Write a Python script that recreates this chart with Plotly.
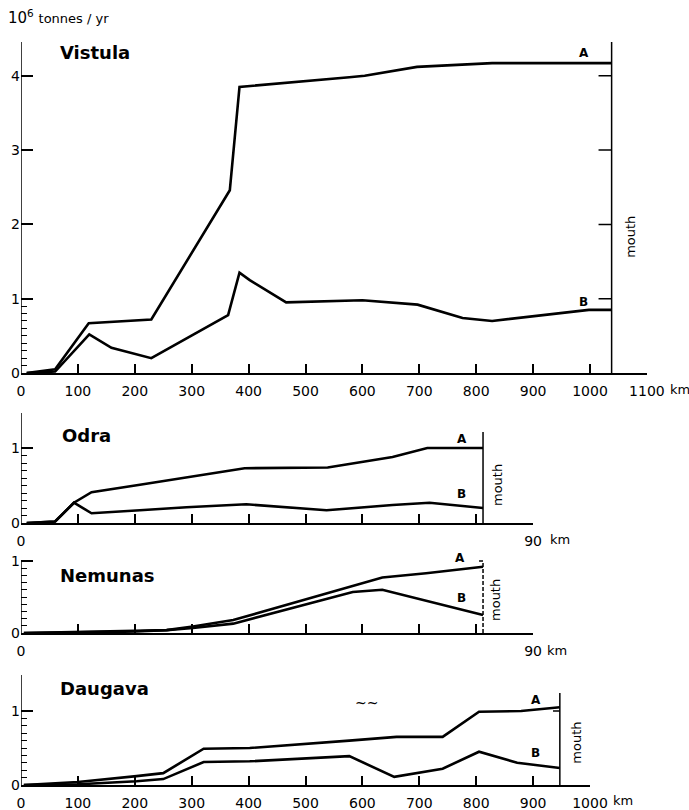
import plotly.graph_objects as go

W, H = 689, 810
X0_PX = 21          # pixel of km 0
PX_PER_KM = 0.569   # horizontal scale shared by all panels

# ---------------- data (km from source, 10^6 tonnes/yr) ----------------
VISTULA_KM_A = [10, 60, 119, 229, 367, 384, 577, 604, 696, 828, 1038]
VISTULA_A = [0, 0.05, 0.67, 0.72, 2.46, 3.85, 3.98, 4.0, 4.12, 4.17, 4.17]
VISTULA_KM_B = [10, 60, 120, 159, 229, 364, 384, 402, 466, 600, 697, 776, 828, 998, 1038]
VISTULA_B = [0, 0.02, 0.52, 0.34, 0.2, 0.78, 1.35, 1.25, 0.95, 0.98, 0.92, 0.74, 0.7, 0.85, 0.85]

ODRA_KM_A = [10, 60, 93, 124, 209, 291, 393, 539, 600, 653, 714, 812]
ODRA_A = [0, 0.02, 0.27, 0.41, 0.51, 0.61, 0.73, 0.74, 0.81, 0.88, 1.0, 1.0]
ODRA_KM_B = [10, 60, 93, 124, 209, 291, 396, 537, 653, 718, 812]
ODRA_B = [0, 0.02, 0.27, 0.13, 0.17, 0.21, 0.25, 0.17, 0.24, 0.27, 0.2]

NEMUNAS_KM_A = [5, 100, 200, 256, 302, 373, 635, 712, 812]
NEMUNAS_A = [0, 0.01, 0.03, 0.04, 0.09, 0.18, 0.77, 0.83, 0.92]
NEMUNAS_KM_B = [5, 100, 200, 256, 302, 373, 583, 635, 812]
NEMUNAS_B = [0, 0.01, 0.02, 0.04, 0.07, 0.13, 0.57, 0.6, 0.25]

DAUGAVA_KM_A = [5, 100, 203, 250, 321, 402, 577, 660, 741, 805, 879, 947]
DAUGAVA_A = [0, 0.04, 0.12, 0.16, 0.49, 0.5, 0.6, 0.65, 0.65, 0.99, 1.0, 1.05]
DAUGAVA_KM_B = [5, 100, 203, 250, 321, 402, 577, 656, 741, 805, 872, 947]
DAUGAVA_B = [0, 0.01, 0.05, 0.08, 0.31, 0.32, 0.39, 0.11, 0.22, 0.45, 0.3, 0.23]

VISTULA_XTICKS = list(range(0, 1101, 100))
VISTULA_XLABELS = ["0", "100", "200", "300", "400", "500", "600", "700", "800", "900", "1000", "1100"]
SHORT_XTICKS = list(range(0, 901, 100))
SHORT_XLABELS = ["0", "", "", "", "", "", "", "", "", "90"]
DAUGAVA_XTICKS = list(range(0, 1001, 100))
DAUGAVA_XLABELS = ["0", "100", "200", "300", "400", "500", "600", "700", "800", "900", "1000"]
MINOR_Y = [0.1, 0.2, 0.3, 0.4, 0.5, 0.6, 0.7, 0.8, 0.9]

FONT = "DejaVu Sans"

panels = [
    dict(name="Vistula", ka=VISTULA_KM_A, a=VISTULA_A, kb=VISTULA_KM_B, b=VISTULA_B,
         base=373, scale=74.3, top_px=35, axis_top=4.455, xmax=1100,
         xt=VISTULA_XTICKS, xl=VISTULA_XLABELS, yt=[0, 1, 2, 3, 4],
         mouth=1038, mouth_top=4.455, mouth_ticks=[1, 2, 3, 4], mouth_tlen=23, mouth_dash="solid",
         title=(65, 4.31), la=(989, 4.31), lb=(989, 0.96), mlab=(1070, 1.83), km_px=(668, 390)),
    dict(name="Odra", ka=ODRA_KM_A, a=ODRA_A, kb=ODRA_KM_B, b=ODRA_B,
         base=523, scale=75, top_px=405, axis_top=1.467, xmax=900,
         xt=SHORT_XTICKS, xl=SHORT_XLABELS, yt=[0, 1],
         mouth=812, mouth_top=1.213, mouth_ticks=[], mouth_tlen=0, mouth_dash="solid",
         title=(68, 1.17), la=(775, 1.12), lb=(775, 0.39), mlab=(837, 0.51), km_px=(548, 539)),
    dict(name="Nemunas", ka=NEMUNAS_KM_A, a=NEMUNAS_A, kb=NEMUNAS_KM_B, b=NEMUNAS_B,
         base=633, scale=72, top_px=550, axis_top=1.0, xmax=900,
         xt=SHORT_XTICKS, xl=SHORT_XLABELS, yt=[0, 1],
         mouth=812, mouth_top=1.0, mouth_ticks=[1.0], mouth_tlen=7, mouth_dash="4px,2px",
         title=(65, 0.8), la=(771, 1.04), lb=(775, 0.49), mlab=(835, 0.46), km_px=(545, 650)),
    dict(name="Daugava", ka=DAUGAVA_KM_A, a=DAUGAVA_A, kb=DAUGAVA_KM_B, b=DAUGAVA_B,
         base=785, scale=74, top_px=668, axis_top=1.486, xmax=1000,
         xt=DAUGAVA_XTICKS, xl=DAUGAVA_XLABELS, yt=[0, 1],
         mouth=947, mouth_top=1.243, mouth_ticks=[1.0], mouth_tlen=12, mouth_dash="solid",
         title=(65, 1.31), la=(905, 1.15), lb=(905, 0.43), mlab=(977, 0.57), km_px=(611, 800)),
]

fig = go.Figure()
layout = dict(
    width=W, height=H, margin=dict(l=0, r=0, t=0, b=0, autoexpand=False),
    paper_bgcolor="white", plot_bgcolor="rgba(0,0,0,0)",
    showlegend=False, template="none",
    font=dict(family=FONT, color="black", size=13),
)
shapes, annotations = [], []
n = len(panels)

for i, p in enumerate(panels, start=1):
    xs = "" if i == 1 else str(i)
    xname, yname = "x" + xs, "y" + xs
    line = dict(color="black", width=2.6)
    fig.add_trace(go.Scatter(x=p["ka"], y=p["a"], mode="lines", line=line,
                             xaxis=xname, yaxis=yname, hoverinfo="skip"))
    fig.add_trace(go.Scatter(x=p["kb"], y=p["b"], mode="lines", line=line,
                             xaxis=xname, yaxis=yname, hoverinfo="skip"))
    xr = p["xmax"] + 0.5
    layout["xaxis" + xs] = dict(
        domain=[X0_PX / W, (X0_PX + xr * PX_PER_KM) / W], range=[0, xr],
        anchor=yname, showline=True, linecolor="black", linewidth=1.5,
        ticks="inside", ticklen=9, tickwidth=1.5, tickcolor="black",
        tickmode="array", tickvals=p["xt"], ticktext=p["xl"],
        tickfont=dict(family=FONT, size=14, color="black"),
        showgrid=False, zeroline=False, ticklabelstandoff=4, automargin=False,
    )
    ytop = (p["base"] - p["top_px"]) / p["scale"]
    ydom = [1 - p["base"] / H, 1 - p["top_px"] / H]
    layout["yaxis" + xs] = dict(
        domain=ydom, range=[0, ytop],
        anchor=xname, showline=False,
        ticks="inside", ticklen=12, tickwidth=1.5, tickcolor="black",
        tickmode="array", tickvals=p["yt"], ticktext=[str(v) for v in p["yt"]],
        tickfont=dict(family=FONT, size=14, color="black"),
        showgrid=False, zeroline=False, automargin=False,
    )
    # overlay axis carrying the short (minor) ticks between 0 and 1
    layout["yaxis" + str(n + i)] = dict(
        overlaying=yname, range=[0, ytop], anchor=xname, side="left", showline=False,
        ticks="inside", ticklen=6, tickwidth=1.3, tickcolor="black",
        tickmode="array", tickvals=MINOR_Y, showticklabels=False,
        showgrid=False, zeroline=False, automargin=False,
    )
    # left axis line
    shapes.append(dict(type="line", xref=xname, yref=yname, x0=0, x1=0, y0=0, y1=p["axis_top"],
                       line=dict(color="black", width=1.5)))
    # mouth line
    shapes.append(dict(type="line", xref=xname, yref=yname, x0=p["mouth"], x1=p["mouth"],
                       y0=0, y1=p["mouth_top"], line=dict(color="black", width=1.5, dash=p["mouth_dash"])))
    for v in p["mouth_ticks"]:
        shapes.append(dict(type="line", xref=xname, yref=yname, x0=p["mouth"] - p["mouth_tlen"],
                           x1=p["mouth"], y0=v, y1=v, line=dict(color="black", width=1.5)))
    # texts
    annotations.append(dict(xref=xname, yref=yname, x=p["title"][0], y=p["title"][1], text=p["name"],
                            showarrow=False, xanchor="left", yanchor="middle",
                            font=dict(family=FONT, size=18, color="black", weight="bold")))
    for lab, pos in (("A", p["la"]), ("B", p["lb"])):
        annotations.append(dict(xref=xname, yref=yname, x=pos[0], y=pos[1], text=lab, showarrow=False,
                                xanchor="center", yanchor="middle",
                                font=dict(family=FONT, size=12, color="black", weight="bold")))
    annotations.append(dict(xref=xname, yref=yname, x=p["mlab"][0], y=p["mlab"][1], text="mouth",
                            showarrow=False, textangle=-90, xanchor="center", yanchor="middle",
                            font=dict(family=FONT, size=13, color="black")))
    annotations.append(dict(xref="paper", yref="paper", x=p["km_px"][0] / W, y=1 - p["km_px"][1] / H,
                            text="km", showarrow=False, xanchor="left", yanchor="middle",
                            font=dict(family=FONT, size=13, color="black")))

# Daugava wave mark
annotations.append(dict(xref="x4", yref="y4", x=608, y=1.11, text="~~", showarrow=False,
                        font=dict(family=FONT, size=14, color="black")))
# unit label
annotations.append(dict(xref="paper", yref="paper", x=6 / W, y=1 - 17 / H,
                        text="10<sup>6</sup> <span style='font-size:13px'>tonnes / yr</span>",
                        showarrow=False, xanchor="left", yanchor="middle",
                        font=dict(family=FONT, size=15, color="black")))

# dummy traces so the overlay axes get drawn
for i, p in enumerate(panels, start=1):
    xs = "" if i == 1 else str(i)
    fig.add_trace(go.Scatter(x=[0], y=[0], mode="markers", marker=dict(opacity=0, size=1),
                             xaxis="x" + xs, yaxis="y" + str(n + i), hoverinfo="skip"))

layout["shapes"] = shapes
layout["annotations"] = annotations
fig.update_layout(**layout)
fig.write_html("out.html", config={"displayModeBar": False},
               post_script="document.body.style.margin='0px';document.body.style.overflow='hidden';")
